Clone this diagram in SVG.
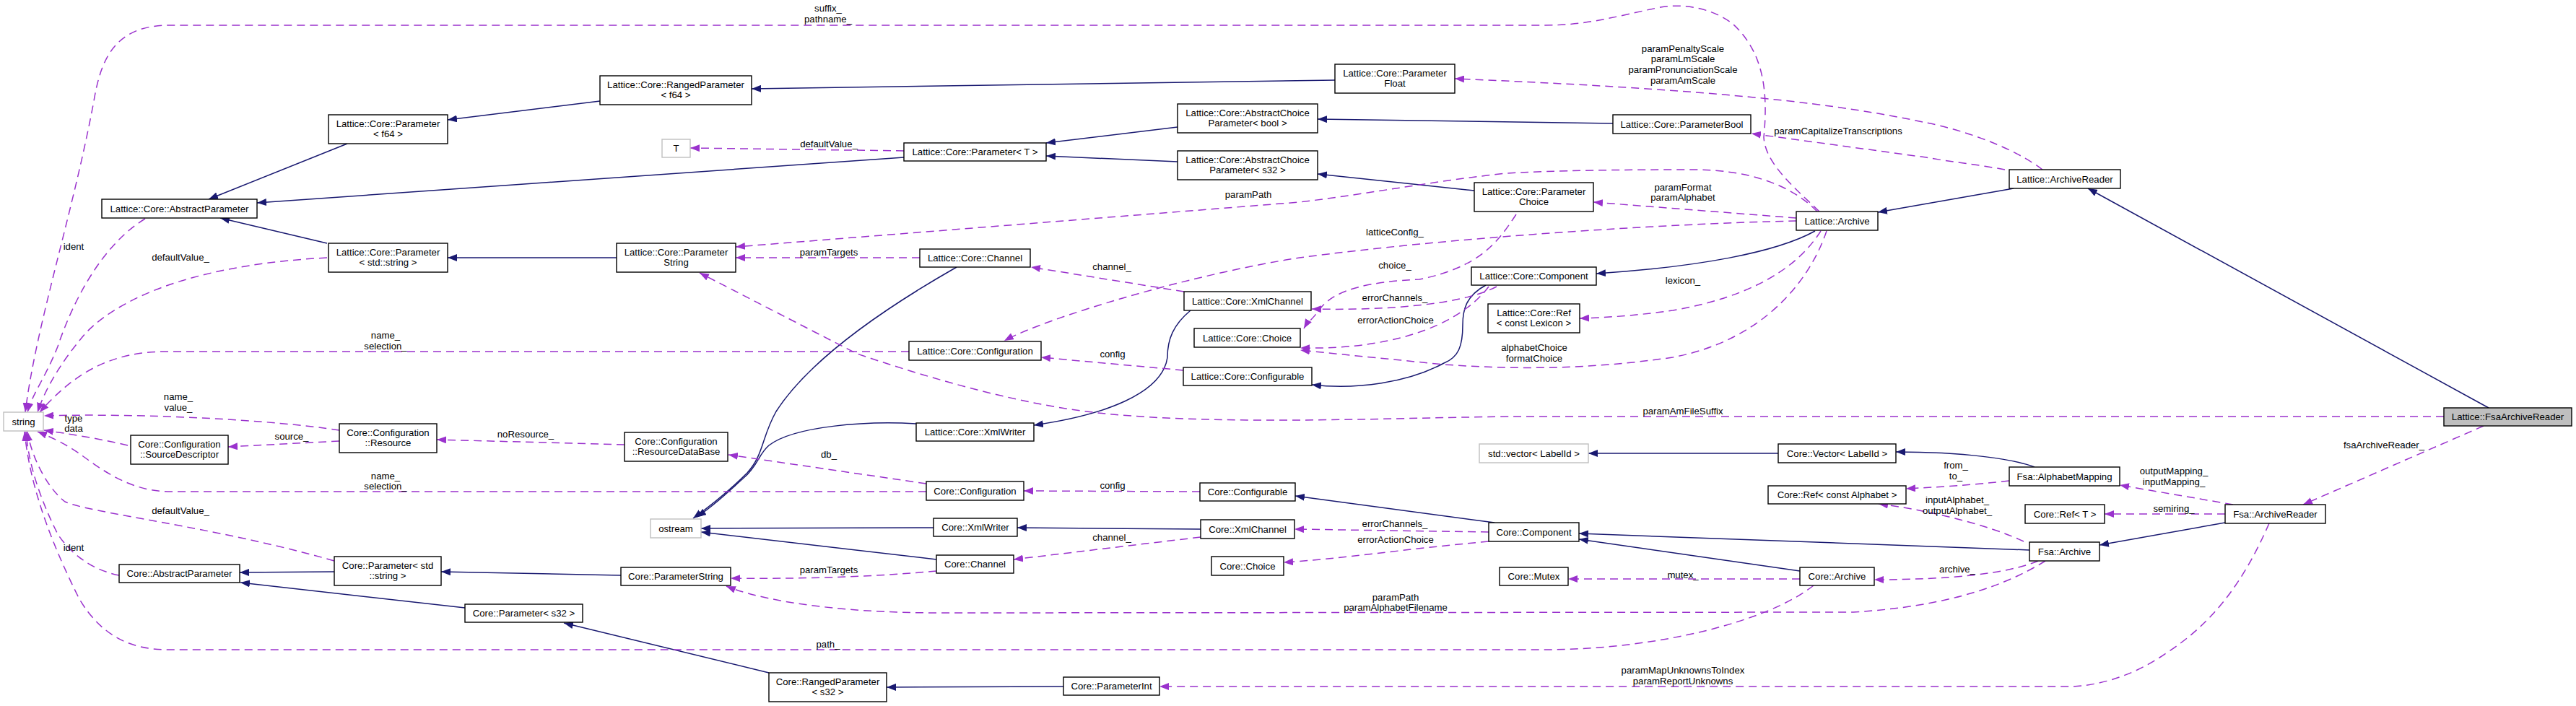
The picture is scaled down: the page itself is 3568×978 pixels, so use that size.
<svg xmlns="http://www.w3.org/2000/svg" width="3568" height="978" viewBox="0 0 3568 978">
<style>
.n rect{fill:#fff;stroke:#000;stroke-width:1.4}
.g rect{stroke:#bfbfbf}
.f rect{fill:#bfbfbf}
text{font-family:"Liberation Sans",Arial,sans-serif;font-size:13.2px;text-anchor:middle;fill:#000}
.s{fill:none;stroke:#191970;stroke-width:1.5;marker-end:url(#ab)}
.d{fill:none;stroke:#9a32cd;stroke-width:1.5;stroke-dasharray:11,7;marker-end:url(#ap)}
</style>
<defs>
<marker id="ab" viewBox="0 0 13 10" refX="13" refY="5" markerWidth="13" markerHeight="10" markerUnits="userSpaceOnUse" orient="auto"><path d="M0,0L13,5L0,10z" fill="#191970"/></marker>
<marker id="ap" viewBox="0 0 13 10" refX="13" refY="5" markerWidth="13" markerHeight="10" markerUnits="userSpaceOnUse" orient="auto"><path d="M0,0L13,5L0,10z" fill="#9a32cd"/></marker>
</defs>
<rect width="3568" height="978" fill="#fff"/>
<g id="connectors">
<path class="s" d="M481,199L289,276"/>
<path class="s" d="M453,337L305,302"/>
<path class="s" d="M1252,218L356,281"/>
<path class="s" d="M831,140L620,166"/>
<path class="s" d="M1849,111L1041,123"/>
<path class="s" d="M854,357L620,357"/>
<path class="s" d="M1631,176L1449,198"/>
<path class="s" d="M1631,224L1449,216"/>
<path class="s" d="M2234,171L1825,165"/>
<path class="s" d="M2042,264L1825,241"/>
<path class="s" d="M2789,261L2601,294"/>
<path class="s" d="M3447,565L2892,261"/>
<path class="s" d="M2514,320C2460,350 2350,370 2211,379"/>
<path class="s" d="M2058,395C2030,410 2026,430 2026,450C2026,480 2020,495 2000,503C1950,530 1880,540 1817,533"/>
<path class="s" d="M1649,430C1625,450 1617,470 1617,495C1610,545 1530,575 1432,589"/>
<path class="s" d="M1269,587C1200,583 1100,590 1065,617C1050,630 1050,645 1030,662C1010,680 990,700 965,716"/>
<path class="s" d="M1325,370C1220,430 1120,500 1075,570C1055,605 1058,630 1035,655C1010,680 985,700 960,718"/>
<path class="s" d="M1293,731L971,732"/>
<path class="s" d="M1297,775L971,737"/>
<path class="s" d="M1663,733L1409,731"/>
<path class="s" d="M2070,724L1794,687"/>
<path class="s" d="M2493,791L2187,747"/>
<path class="s" d="M2811,762L2187,739"/>
<path class="s" d="M3082,724L2908,755"/>
<path class="s" d="M2818,647C2790,636 2720,626 2626,626"/>
<path class="s" d="M2463,628L2200,628"/>
<path class="s" d="M463,792L332,793"/>
<path class="s" d="M644,842L333,807"/>
<path class="s" d="M860,797L611,792"/>
<path class="s" d="M1065,932L781,863"/>
<path class="s" d="M1473,951L1228,952"/>

<path class="d" d="M2520,293C2480,255 2445,225 2443,190C2450,120 2440,70 2400,33C2370,10 2330,5 2300,10C2240,22 2200,35 2140,35L235,35C160,35 140,80 130,140C100,300 50,450 35,571"/>
<text x="1147" y="16">suffix_</text><text x="1147" y="31">pathname_</text>
<path class="d" d="M201,303C140,340 100,420 80,480C62,525 45,545 38,571"/>
<text x="102" y="346">ident</text>
<path class="d" d="M453,357C300,365 180,400 120,460C85,500 62,540 52,571"/>
<text x="250" y="361">defaultValue_</text>
<path class="d" d="M1259,487L230,487C150,487 100,520 55,571"/>
<text x="534" y="469">name_</text><text x="534" y="484">selection_</text>
<path class="d" d="M470,596C380,582 200,572 61,576"/>
<text x="247" y="554">name_</text><text x="247" y="569">value_</text>
<path class="d" d="M177,617C140,608 90,600 61,596"/>
<text x="102" y="584">type</text><text x="102" y="598">data</text>
<path class="d" d="M470,611L316,619"/>
<text x="404" y="609">source_</text>
<path class="d" d="M865,616L605,609"/>
<text x="728" y="606">noResource_</text>
<path class="d" d="M1283,670L1009,630"/>
<text x="1148" y="634">db_</text>
<path class="d" d="M1283,681L232,681C180,680 140,650 115,632C95,617 70,605 52,598"/>
<text x="534" y="664">name_</text><text x="534" y="678">selection_</text>
<path class="d" d="M463,777C300,730 120,710 90,695C70,680 45,640 38,598"/>
<text x="250" y="712">defaultValue_</text>
<path class="d" d="M165,797C130,790 100,770 80,740C60,700 40,650 36,598"/>
<text x="102" y="763">ident</text>
<path class="d" d="M2512,811C2450,860 2300,899 2144,900L232,900C180,900 140,880 110,830C75,760 42,680 34,598"/>
<text x="1147" y="897">path_</text>
<path class="d" d="M1252,209L956,205"/>
<text x="1148" y="204">defaultValue_</text>
<path class="d" d="M2517,293C2480,255 2420,235 2345,235C2250,235 2150,236 2087,240C1990,250 1900,268 1800,280L1019,342"/>
<text x="1729" y="274">paramPath</text>
<path class="d" d="M1274,357L1019,357"/>
<text x="1148" y="354">paramTargets</text>
<path class="d" d="M1640,404L1428,370"/>
<text x="1540" y="374">channel_</text>
<path class="d" d="M2488,306C2300,310 2000,330 1800,357C1650,380 1450,440 1391,472"/>
<text x="1932" y="326">latticeConfig_</text>
<path class="d" d="M1639,513L1442,495"/>
<text x="1541" y="495">config</text>
<path class="d" d="M2829,235C2790,205 2720,180 2668,170C2550,145 2400,125 2015,109"/>
<text x="2331" y="72">paramPenaltyScale</text><text x="2331" y="86">paramLmScale</text><text x="2331" y="101">paramPronunciationScale</text><text x="2331" y="116">paramAmScale</text>
<path class="d" d="M2777,235C2740,228 2700,224 2668,218L2426,185"/>
<text x="2546" y="186">paramCapitalizeTranscriptions</text>
<path class="d" d="M2488,302L2207,280"/>
<text x="2331" y="264">paramFormat</text><text x="2331" y="278">paramAlphabet</text>
<path class="d" d="M2100,297C2075,335 2050,370 1966,387C1900,390 1850,400 1829,427C1820,440 1810,448 1806,455"/>
<text x="1932" y="372">choice_</text>
<path class="d" d="M2073,397C2020,425 1900,430 1817,428"/>
<text x="1932" y="417">errorChannels_</text>
<path class="d" d="M2062,397C2030,440 1950,485 1801,482"/>
<text x="1933" y="448">errorActionChoice</text>
<path class="d" d="M2522,320C2490,370 2430,410 2317,430C2260,438 2220,440 2188,441"/>
<text x="2331" y="393">lexicon_</text>
<path class="d" d="M2530,320C2510,380 2450,470 2317,495C2200,512 2100,512 2000,505C1900,495 1850,490 1801,485"/>
<text x="2125" y="486">alphabetChoice</text><text x="2125" y="501">formatChoice</text>
<path class="d" d="M3385,577L2100,577C1950,578 1700,590 1531,573C1420,562 1300,528 1187,490L969,378"/>
<text x="2331" y="574">paramAmFileSuffix</text>
<path class="d" d="M3440,590L3190,699"/>
<text x="3302" y="621">fsaArchiveReader_</text>
<path class="d" d="M1662,681L1418,680"/>
<text x="1541" y="677">config</text>
<path class="d" d="M1663,744L1404,775"/>
<text x="1540" y="749">channel_</text>
<path class="d" d="M1297,791C1200,800 1100,802 1012,801"/>
<text x="1148" y="794">paramTargets</text>
<path class="d" d="M2062,737L1793,733"/>
<text x="1932" y="730">errorChannels_</text>
<path class="d" d="M2062,750C1950,760 1850,775 1778,779"/>
<text x="1933" y="752">errorActionChoice</text>
<path class="d" d="M2493,802L2172,802"/>
<text x="2331" y="801">mutex_</text>
<path class="d" d="M2823,777C2780,795 2700,803 2596,803"/>
<text x="2711" y="793">archive_</text>
<path class="d" d="M2833,777C2780,810 2700,840 2567,848L1302,849C1150,849 1050,830 1006,812"/>
<text x="1933" y="832">paramPath</text><text x="1933" y="846">paramAlphabetFilename</text>
<path class="d" d="M2803,750C2750,725 2660,705 2602,698"/>
<text x="2711" y="697">inputAlphabet_</text><text x="2711" y="712">outputAlphabet_</text>
<path class="d" d="M2783,666C2730,672 2680,675 2640,677"/>
<text x="2709" y="649">from_</text><text x="2709" y="664">to_</text>
<path class="d" d="M3093,699L2936,672"/>
<text x="3011" y="657">outputMapping_</text><text x="3011" y="672">inputMapping_</text>
<path class="d" d="M3082,712L2915,712"/>
<text x="3011" y="709">semiring_</text>
<path class="d" d="M3143,725C3110,800 3070,860 3000,905C2950,940 2900,950 2869,951L1606,951"/>
<text x="2331" y="933">paramMapUnknownsToIndex</text><text x="2331" y="948">paramReportUnknowns</text>
</g>

<g id="n_string" class="n g"><rect x="5" y="571" width="55" height="26"/><text x="32.5" y="588.5">string</text></g>
<g id="n_LAbsParam" class="n"><rect x="141" y="276" width="215" height="26"/><text x="248.5" y="293.5">Lattice::Core::AbstractParameter</text></g>
<g id="n_LParamF64" class="n"><rect x="455" y="159" width="165" height="40"/><text x="537.5" y="175.5">Lattice::Core::Parameter</text><text x="537.5" y="189.5">&lt; f64 &gt;</text></g>
<g id="n_LParamStd" class="n"><rect x="455" y="337" width="165" height="40"/><text x="537.5" y="353.5">Lattice::Core::Parameter</text><text x="537.5" y="367.5">&lt; std::string &gt;</text></g>
<g id="n_LRangedF64" class="n"><rect x="831" y="105" width="210" height="40"/><text x="936" y="121.5">Lattice::Core::RangedParameter</text><text x="936" y="135.5">&lt; f64 &gt;</text></g>
<g id="n_LParamString" class="n"><rect x="854" y="337" width="165" height="40"/><text x="936.5" y="353.5">Lattice::Core::Parameter</text><text x="936.5" y="367.5">String</text></g>
<g id="n_T" class="n g"><rect x="917" y="193" width="39" height="25"/><text x="936.5" y="210">T</text></g>
<g id="n_LParamT" class="n"><rect x="1252" y="198" width="197" height="25"/><text x="1350.5" y="215">Lattice::Core::Parameter&lt; T &gt;</text></g>
<g id="n_LACPbool" class="n"><rect x="1631" y="144" width="194" height="40"/><text x="1728" y="160.5">Lattice::Core::AbstractChoice</text><text x="1728" y="174.5">Parameter&lt; bool &gt;</text></g>
<g id="n_LACPs32" class="n"><rect x="1631" y="209" width="194" height="40"/><text x="1728" y="225.5">Lattice::Core::AbstractChoice</text><text x="1728" y="239.5">Parameter&lt; s32 &gt;</text></g>
<g id="n_LParamFloat" class="n"><rect x="1849" y="89" width="166" height="40"/><text x="1932" y="105.5">Lattice::Core::Parameter</text><text x="1932" y="119.5">Float</text></g>
<g id="n_LParamBool" class="n"><rect x="2234" y="159" width="191" height="26"/><text x="2329.5" y="176.5">Lattice::Core::ParameterBool</text></g>
<g id="n_LParamChoice" class="n"><rect x="2042" y="253" width="165" height="40"/><text x="2124.5" y="269.5">Lattice::Core::Parameter</text><text x="2124.5" y="283.5">Choice</text></g>
<g id="n_LArchive" class="n"><rect x="2488" y="293" width="113" height="26"/><text x="2544.5" y="310.5">Lattice::Archive</text></g>
<g id="n_LArchiveReader" class="n"><rect x="2783" y="235" width="154" height="26"/><text x="2860" y="252.5">Lattice::ArchiveReader</text></g>
<g id="n_LChannel" class="n"><rect x="1274" y="345" width="153" height="25"/><text x="1350.5" y="362">Lattice::Core::Channel</text></g>
<g id="n_LXmlChannel" class="n"><rect x="1640" y="404" width="176" height="26"/><text x="1728" y="421.5">Lattice::Core::XmlChannel</text></g>
<g id="n_LChoice" class="n"><rect x="1654" y="455" width="147" height="26"/><text x="1727.5" y="472.5">Lattice::Core::Choice</text></g>
<g id="n_LConfiguration" class="n"><rect x="1259" y="473" width="183" height="26"/><text x="1350.5" y="490.5">Lattice::Core::Configuration</text></g>
<g id="n_LComponent" class="n"><rect x="2038" y="370" width="173" height="25"/><text x="2124.5" y="387">Lattice::Core::Component</text></g>
<g id="n_LRefLex" class="n"><rect x="2061" y="421" width="127" height="40"/><text x="2124.5" y="437.5">Lattice::Core::Ref</text><text x="2124.5" y="451.5">&lt; const Lexicon &gt;</text></g>
<g id="n_LConfigurable" class="n"><rect x="1639" y="509" width="178" height="25"/><text x="1728" y="526">Lattice::Core::Configurable</text></g>
<g id="n_LXmlWriter" class="n"><rect x="1269" y="586" width="163" height="25"/><text x="1350.5" y="603">Lattice::Core::XmlWriter</text></g>
<g id="n_SrcDesc" class="n"><rect x="181" y="603" width="135" height="40"/><text x="248.5" y="619.5">Core::Configuration</text><text x="248.5" y="633.5">::SourceDescriptor</text></g>
<g id="n_Resource" class="n"><rect x="470" y="587" width="135" height="40"/><text x="537.5" y="603.5">Core::Configuration</text><text x="537.5" y="617.5">::Resource</text></g>
<g id="n_ResDB" class="n"><rect x="865" y="599" width="143" height="40"/><text x="936.5" y="615.5">Core::Configuration</text><text x="936.5" y="629.5">::ResourceDataBase</text></g>
<g id="n_Configuration" class="n"><rect x="1283" y="667" width="135" height="26"/><text x="1350.5" y="684.5">Core::Configuration</text></g>
<g id="n_Configurable" class="n"><rect x="1662" y="669" width="132" height="25"/><text x="1728" y="686">Core::Configurable</text></g>
<g id="n_ostream" class="n g"><rect x="901" y="719" width="70" height="26"/><text x="936" y="736.5">ostream</text></g>
<g id="n_XmlWriter" class="n"><rect x="1293" y="718" width="116" height="25"/><text x="1351" y="735">Core::XmlWriter</text></g>
<g id="n_XmlChannel" class="n"><rect x="1663" y="720" width="130" height="26"/><text x="1728" y="737.5">Core::XmlChannel</text></g>
<g id="n_Channel" class="n"><rect x="1297" y="769" width="107" height="25"/><text x="1350.5" y="786">Core::Channel</text></g>
<g id="n_Choice" class="n"><rect x="1678" y="771" width="100" height="26"/><text x="1728" y="788.5">Core::Choice</text></g>
<g id="n_AbsParam" class="n"><rect x="165" y="782" width="167" height="25"/><text x="248.5" y="799">Core::AbstractParameter</text></g>
<g id="n_ParamStd" class="n"><rect x="463" y="771" width="148" height="40"/><text x="537" y="787.5">Core::Parameter&lt; std</text><text x="537" y="801.5">::string &gt;</text></g>
<g id="n_ParamString" class="n"><rect x="860" y="786" width="152" height="25"/><text x="936" y="803">Core::ParameterString</text></g>
<g id="n_ParamS32" class="n"><rect x="644" y="837" width="163" height="25"/><text x="725.5" y="854">Core::Parameter&lt; s32 &gt;</text></g>
<g id="n_RangedS32" class="n"><rect x="1065" y="932" width="163" height="40"/><text x="1146.5" y="948.5">Core::RangedParameter</text><text x="1146.5" y="962.5">&lt; s32 &gt;</text></g>
<g id="n_ParamInt" class="n"><rect x="1473" y="938" width="133" height="25"/><text x="1539.5" y="955">Core::ParameterInt</text></g>
<g id="n_StdVector" class="n g"><rect x="2049" y="615" width="151" height="26"/><text x="2124.5" y="632.5">std::vector&lt; LabelId &gt;</text></g>
<g id="n_Vector" class="n"><rect x="2463" y="615" width="163" height="26"/><text x="2544.5" y="632.5">Core::Vector&lt; LabelId &gt;</text></g>
<g id="n_RefAlpha" class="n"><rect x="2449" y="673" width="191" height="25"/><text x="2544.5" y="690">Core::Ref&lt; const Alphabet &gt;</text></g>
<g id="n_Component" class="n"><rect x="2062" y="724" width="125" height="26"/><text x="2124.5" y="741.5">Core::Component</text></g>
<g id="n_Mutex" class="n"><rect x="2077" y="786" width="95" height="25"/><text x="2124.5" y="803">Core::Mutex</text></g>
<g id="n_Archive" class="n"><rect x="2493" y="786" width="103" height="25"/><text x="2544.5" y="803">Core::Archive</text></g>
<g id="n_AlphaMap" class="n"><rect x="2783" y="647" width="153" height="26"/><text x="2859.5" y="664.5">Fsa::AlphabetMapping</text></g>
<g id="n_RefT" class="n"><rect x="2805" y="699" width="110" height="26"/><text x="2860" y="716.5">Core::Ref&lt; T &gt;</text></g>
<g id="n_FsaArchiveReader" class="n"><rect x="3082" y="699" width="139" height="26"/><text x="3151.5" y="716.5">Fsa::ArchiveReader</text></g>
<g id="n_FsaArchive" class="n"><rect x="2811" y="751" width="97" height="26"/><text x="2859.5" y="768.5">Fsa::Archive</text></g>
<g id="n_LFsaArchiveReader" class="n f"><rect x="3385" y="565" width="177" height="25"/><text x="3473.5" y="582">Lattice::FsaArchiveReader</text></g>
</svg>
